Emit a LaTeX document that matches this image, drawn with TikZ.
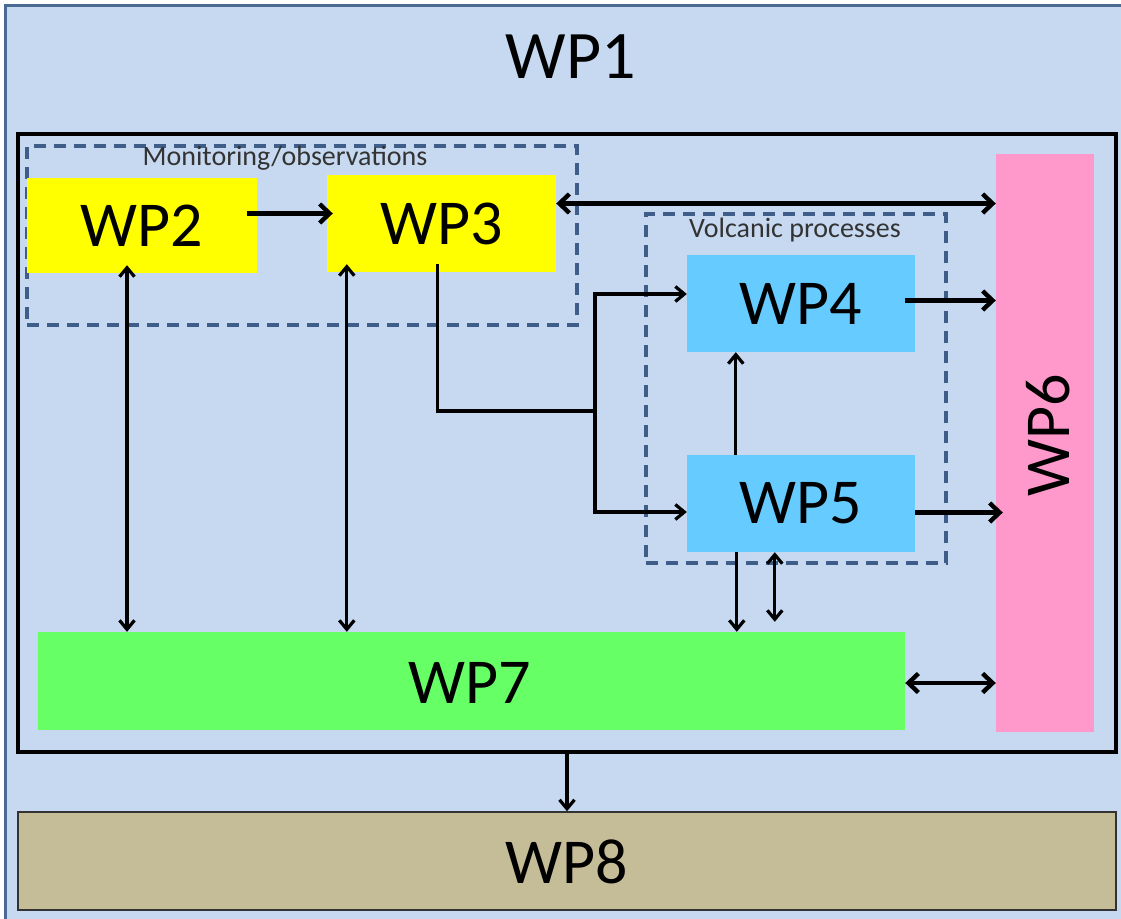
\documentclass[tikz,border=0pt]{standalone}
\usepackage{fontspec}
\setmainfont{Carlito}
\usetikzlibrary{positioning,arrows.meta,calc}
\definecolor{WPbg}{HTML}{C6D9F1}
\definecolor{WPframe}{HTML}{4A6A94}
\definecolor{WPdash}{HTML}{3E5D88}
\definecolor{WPyellow}{HTML}{FFFF00}
\definecolor{WPblue}{HTML}{66CCFF}
\definecolor{WPpink}{HTML}{FF99CC}
\definecolor{WPgreen}{HTML}{66FF66}
\definecolor{WPtan}{HTML}{C4BD97}

\begin{document}
\begin{tikzpicture}[x=1pt,y=-1pt,
    wpbox/.style={inner sep=0pt,font=\fontsize{64}{64}\selectfont},
    group/.style={draw=WPdash,line width=3.2pt,dash pattern=on 12pt off 8pt,inner sep=0pt},
    tag/.style={font=\fontsize{28}{28}\selectfont,text=black!80},
    flow/.style={-{Straight Barb[length=10pt,width=19pt]},line width=4.4pt},
    both/.style={{Straight Barb[length=10pt,width=19pt]}-{Straight Barb[length=10pt,width=19pt]},line width=4.4pt},
    thinflow/.style={-{Straight Barb[length=9pt,width=15pt]},line width=3.2pt},
    thinboth/.style={{Straight Barb[length=9pt,width=15pt]}-{Straight Barb[length=9pt,width=15pt]},line width=3.2pt}]
  \useasboundingbox[fill=white] (0,0) rectangle (1121,918);
  \draw[fill=WPbg,draw=WPframe,line width=3pt] (5,5) rectangle (1130,930);
  \node[font=\fontsize{68}{68}\selectfont] (wp1) at (571,57) {WP1};

  \node[draw,line width=3.2pt,minimum width=1098pt,minimum height=618pt,inner sep=0pt] (core) at (567,443) {};
  \node[group,minimum width=550pt,minimum height=179pt] (mon) at (302,235.5) {};
  \node[tag] (monlabel) at (285,158) {Monitoring/observations};
  \node[group,minimum width=300pt,minimum height=349pt] (volc) at (796,388.5) {};
  \node[tag] (volclabel) at (795,230) {Volcanic processes};

  \node[wpbox,fill=WPyellow,minimum width=230pt,minimum height=95pt] (wp2) at (142,225.5) {WP2};
  \node[wpbox,fill=WPyellow,minimum width=229pt,minimum height=97pt] (wp3) at (441.5,223.5) {WP3};
  \node[wpbox,fill=WPblue,minimum width=228pt,minimum height=97pt] (wp4) at (801,303.5) {WP4};
  \node[wpbox,fill=WPblue,minimum width=228pt,minimum height=97pt] (wp5) at (801,503.5) {WP5};
  \node[wpbox,fill=WPpink,minimum width=98pt,minimum height=578pt] (wp6) at (1045,443) {};
  \node[font=\fontsize{64}{64}\selectfont,rotate=90] (wp6label) at (1048,435) {WP6};
  \node[wpbox,fill=WPgreen,minimum width=867pt,minimum height=98pt] (wp7) at (471.5,681) {};
  \node[font=\fontsize{64}{64}\selectfont] (wp7label) at (470,683) {WP7};
  \node[wpbox,fill=WPtan,draw=black!80,line width=1.5pt,minimum width=1098pt,minimum height=98pt] (wp8) at (567,861) {};
  \node[font=\fontsize{64}{64}\selectfont] (wp8label) at (567,862) {WP8};

  \coordinate (split) at (595,411);

  % links inside the monitoring group
  \draw[flow] ($(wp2.east)+(-10,-12)$) -- ($(wp2.east -| wp3.west)+(6,-12)$);
  \draw[both] ($(wp3.east)+(0,-20)$) -- ($(wp3.east -| wp6.west)+(0,-20)$);
  \draw[thinboth] ($(wp2.south)+(-15,-8)$) -- ($(wp2.south |- wp7.north)+(-15,0)$);
  \draw[thinboth] ($(wp3.south west)+(20,-8)$) -- ($(wp3.south west |- wp7.north)+(20,0)$);

  % WP3 feeds the volcanic processes
  \draw[line width=3.2pt] ($(wp3.south)+(-4,-8)$) |- (split);
  \draw[thinflow] (split) |- ($(wp4.west)+(0,-9.5)$);
  \draw[thinflow] (split) |- ($(wp5.west)+(0,8.5)$);

  \draw[flow] ($(wp4.east)+(-10,-3)$) -- ($(wp4.east -| wp6.west)+(0,-3)$);
  \draw[flow] ($(wp5.east)+(0,9)$) -- ($(wp5.east -| wp6.west)+(7,9)$);
  \draw[thinflow] ($(wp5.north west)+(49,0)$) -- ($(wp4.south west)+(49,0)$);
  \draw[thinflow] ($(wp5.south west)+(50,0)$) -- ($(wp5.south west |- wp7.north)+(50,0)$);
  \draw[thinboth] ($(wp5.south west)+(88,0)$) -- ($(wp5.south west |- wp7.north)+(88,-10)$);
  \draw[both] ($(wp7.east)+(0,2)$) -- ($(wp7.east -| wp6.west)+(0,2)$);
  \draw[thinflow] (core.south) -- (wp8.north);
\end{tikzpicture}
\end{document}
